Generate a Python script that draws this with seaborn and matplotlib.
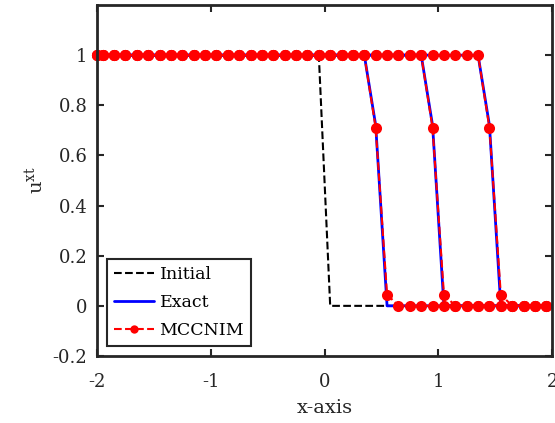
import numpy as np
import pandas as pd
import matplotlib
matplotlib.use("Agg")
import matplotlib.pyplot as plt
import seaborn as sns

# grid points (x)
x_grid = [-2.0] + [round(-1.95 + 0.1 * k, 2) for k in range(40)]

# initial condition
u_initial = [1] * 21 + [0] * 20

# exact solution at three times
u_exact_t1 = [1] * 25 + [0.72, 0.0] + [0] * 14
u_exact_t2 = [1] * 30 + [0.72, 0.0] + [0] * 9
u_exact_t3 = [1] * 35 + [0.72, 0.0] + [0] * 4

# MCCNIM solution at three times
u_mcc_t1 = [1] * 25 + [0.71, 0.045] + [0] * 14
u_mcc_t2 = [1] * 30 + [0.71, 0.045] + [0] * 9
u_mcc_t3 = [1] * 35 + [0.71, 0.045] + [0] * 4

x_ticks = [-2, -1, 0, 1, 2]
y_ticks = [-0.2, 0, 0.2, 0.4, 0.6, 0.8, 1]

sns.set_theme(style="white")
plt.rcParams['font.family'] = ['DejaVu Serif']
plt.rcParams['mathtext.fontset'] = 'dejavuserif'

dark = '#262626'
fig = plt.figure(figsize=(5.55, 4.23), dpi=100)
ax = fig.add_axes([97/555, 1 - 356/423, (552-97)/555, (356-5)/423])

sns.lineplot(x=x_grid, y=u_initial, ax=ax, color='black', linestyle='--',
             linewidth=1.5, label='Initial', sort=False)
for i, ue in enumerate([u_exact_t1, u_exact_t2, u_exact_t3]):
    sns.lineplot(x=x_grid, y=ue, ax=ax, color='blue', linestyle='-', linewidth=2,
                 label='Exact' if i == 0 else None, sort=False)
for i, um in enumerate([u_mcc_t1, u_mcc_t2, u_mcc_t3]):
    sns.lineplot(x=x_grid, y=um, ax=ax, color='red', linestyle='--', linewidth=1.5,
                 marker='o', markersize=8, markeredgewidth=0, clip_on=False,
                 label='MCCNIM' if i == 0 else None, sort=False)

ax.set_xlim(-2, 2)
ax.set_ylim(-0.2, 1.2)
ax.set_xticks(x_ticks)
ax.set_xticklabels([str(v) for v in x_ticks])
ax.set_yticks(y_ticks)
ax.set_yticklabels(['-0.2', '0', '0.2', '0.4', '0.6', '0.8', '1'])
ax.tick_params(direction='in', length=5, width=1.5, colors=dark, labelsize=13,
               top=True, right=True, bottom=True, left=True)
ax.tick_params(axis='x', pad=12)
ax.tick_params(axis='y', pad=7)
for s in ax.spines.values():
    s.set_visible(True)
    s.set_color(dark)
    s.set_linewidth(2)

ax.set_xlabel('x-axis', fontsize=14, color=dark, labelpad=6)
ax.set_ylabel(r'$\mathregular{u^{xt}}$', fontsize=14, color=dark)

leg = ax.legend(loc='lower left', fontsize=12.5, fancybox=False, frameon=True,
                edgecolor=dark, framealpha=1, borderaxespad=0.6, handlelength=2.3,
                handletextpad=0.3, labelspacing=0.62, borderpad=0.4)
leg.get_frame().set_linewidth(1.5)
for t in leg.get_texts():
    t.set_color('black')
leg.legend_handles[2].set_markersize(6)

fig.savefig('out.png', dpi=100)
